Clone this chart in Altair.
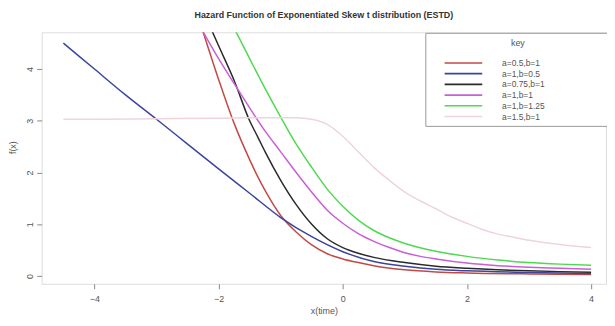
import altair as alt
import pandas as pd

# ---- data ----
labels = ["a=0.5,b=1", "a=1,b=0.5", "a=0.75,b=1", "a=1,b=1", "a=1,b=1.25", "a=1.5,b=1"]
colors = ["#c24a45", "#3c44a0", "#2a2a2a", "#c95fd6", "#4fd94f", "#f0d3dc"]

red_x = [-2.25, -2.0, -1.75, -1.5, -1.37, -1.25, -1.0, -0.75, -0.5, -0.25, 0.0, 0.25, 0.5, 1.0, 1.5, 2.0, 3.0, 4.0]
red_y = [4.72, 3.8, 2.95, 2.25, 1.92, 1.65, 1.17, 0.85, 0.6, 0.43, 0.33, 0.26, 0.2, 0.12, 0.08, 0.06, 0.04, 0.03]

blue_x = [-4.5, -4.0, -3.5, -3.0, -2.5, -2.0, -1.5, -1.0, -0.5, 0.0, 0.5, 1.0, 1.5, 2.0, 3.0, 4.0]
blue_y = [4.5, 4.0, 3.5, 3.03, 2.55, 2.07, 1.6, 1.13, 0.76, 0.47, 0.28, 0.19, 0.13, 0.1, 0.07, 0.05]

black_x = [-2.1, -2.0, -1.75, -1.5, -1.37, -1.25, -1.0, -0.75, -0.5, -0.25, 0.0, 0.25, 0.5, 1.0, 1.5, 2.0, 2.5, 3.0, 3.5, 4.0]
black_y = [4.72, 4.45, 3.78, 3.0, 2.69, 2.4, 1.85, 1.38, 1.0, 0.72, 0.55, 0.44, 0.36, 0.26, 0.19, 0.15, 0.12, 0.1, 0.085, 0.075]

mag_x = [-2.25, -2.0, -1.75, -1.5, -1.25, -1.0, -0.75, -0.5, -0.25, 0.0, 0.25, 0.5, 0.75, 1.0, 1.25, 1.5, 2.0, 2.5, 3.0, 3.5, 4.0]
mag_y = [4.72, 4.2, 3.72, 3.25, 2.8, 2.4, 2.0, 1.62, 1.27, 1.02, 0.82, 0.67, 0.55, 0.45, 0.38, 0.33, 0.25, 0.2, 0.17, 0.15, 0.13]

green_x = [-1.72, -1.5, -1.25, -1.0, -0.75, -0.5, -0.25, 0.0, 0.25, 0.5, 0.75, 1.0, 1.5, 2.0, 2.5, 3.0, 3.5, 4.0]
green_y = [4.72, 4.2, 3.62, 3.07, 2.55, 2.1, 1.68, 1.35, 1.08, 0.88, 0.74, 0.63, 0.48, 0.38, 0.31, 0.26, 0.23, 0.21]

pink_x = [-4.5, -4.0, -3.0, -2.0, -1.5, -1.0, -0.75, -0.5, -0.25, 0.0, 0.25, 0.5, 0.75, 1.0, 1.25, 1.5, 1.75, 2.0, 2.25, 2.5, 2.75, 3.0, 3.5, 4.0]
pink_y = [3.03, 3.03, 3.04, 3.05, 3.06, 3.06, 3.06, 3.03, 2.93, 2.7, 2.4, 2.1, 1.85, 1.62, 1.45, 1.3, 1.14, 1.02, 0.9, 0.81, 0.75, 0.69, 0.61, 0.55]

x_ticks = [-4, -2, 0, 2, 4]
y_ticks = [0, 1, 2, 3, 4]

series = [(red_x, red_y), (blue_x, blue_y), (black_x, black_y), (mag_x, mag_y), (green_x, green_y), (pink_x, pink_y)]
rows = []
for lab, (xs, ys) in zip(labels, series):
    for i, (xv, yv) in enumerate(zip(xs, ys)):
        rows.append({"series": lab, "x": xv, "y": yv, "order": i})
df = pd.DataFrame(rows)
leg_df = pd.DataFrame({"series": labels})

FONT = "Liberation Sans"
color_scale = alt.Scale(domain=labels, range=colors)

lines = alt.Chart(df).mark_line(strokeWidth=1.5, clip=True, interpolate="monotone").encode(
    x=alt.X("x:Q", title="x(time)",
            scale=alt.Scale(domain=[-4.85, 4.24], nice=False, zero=False),
            axis=alt.Axis(values=x_ticks, grid=False, domain=False, tickSize=5, tickColor="#888",
                          labelPadding=6, labelFontSize=9, labelColor="#555", labelFont=FONT,
                          titleFont=FONT, titleFontSize=9, titleFontWeight="normal", titleColor="#555",
                          titlePadding=3)),
    y=alt.Y("y:Q", title="f(x)",
            scale=alt.Scale(domain=[-0.15, 4.71], nice=False, zero=False),
            axis=alt.Axis(values=y_ticks, grid=False, domain=False, tickSize=5, tickColor="#888",
                          labelAngle=270, labelAlign="center", labelBaseline="bottom", labelPadding=2,
                          labelFontSize=9, labelColor="#555", labelFont=FONT,
                          titleFont=FONT, titleFontSize=9, titleFontWeight="normal", titleColor="#555",
                          titlePadding=8, titleY=116)),
    color=alt.Color("series:N", scale=color_scale, legend=None),
    detail="series:N",
    order="order:Q",
)

box = alt.Chart(leg_df).mark_rect(fill="white", stroke="#999", strokeWidth=1).encode(
    x=alt.value(388), x2=alt.value(572), y=alt.value(1), y2=alt.value(95)
).transform_filter(alt.datum.series == labels[0])

key = alt.Chart(leg_df).mark_text(text="key", font=FONT, fontSize=9, color="#555",
                                  align="center", baseline="middle").encode(
    x=alt.value(481), y=alt.value(11)
).transform_filter(alt.datum.series == labels[0])

leg_y = alt.Y("series:N", sort=labels, scale=alt.Scale(type="point", domain=labels, range=[25.5, 90.5]), axis=None)

leg_lines = alt.Chart(leg_df).mark_rule(strokeWidth=1.6).encode(
    x=alt.value(407), x2=alt.value(445), y=leg_y,
    color=alt.Color("series:N", scale=color_scale, legend=None),
)

leg_text = alt.Chart(leg_df).mark_text(font=FONT, fontSize=8.5, color="#555", align="left", baseline="middle").encode(
    x=alt.value(465), y=leg_y, text="series:N",
)

chart = alt.layer(lines, box, key, leg_lines, leg_text).resolve_scale(y="independent").properties(
    width=570, height=254,
    title=alt.TitleParams("Hazard Function of Exponentiated Skew t distribution (ESTD)",
                          font=FONT, fontSize=9, fontWeight="bold", color="#333",
                          anchor="middle", frame="group", offset=12),
    autosize=alt.AutoSizeParams(type="none"),
    padding={"left": 34, "top": 23, "right": 1, "bottom": 33},
).configure_view(stroke="#999", strokeWidth=1).configure(background="white")

chart.save("out.html", embed_options={"renderer": "svg", "actions": False})
